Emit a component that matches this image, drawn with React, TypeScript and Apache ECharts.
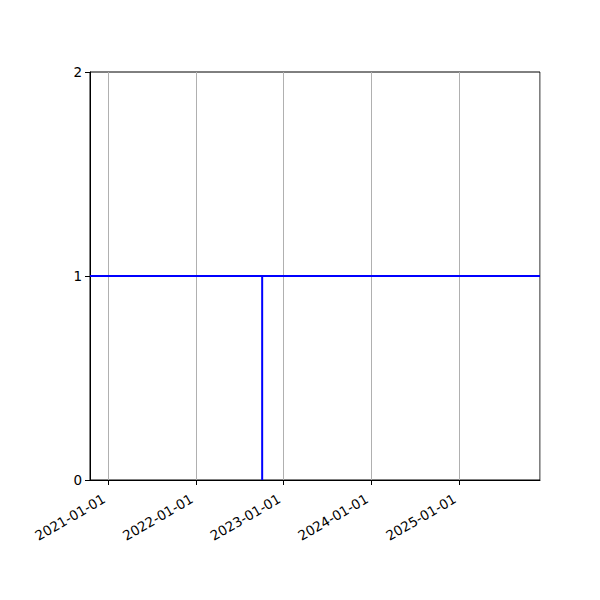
import React, { useEffect, useRef } from "react";
import * as echarts from "echarts";

const xRange = ["2020-10-17", "2025-12-04"];
const hLineY = [1, 1];
const vLineDate = "2022-10-04";
const vLineY = [0, 1];
const yTicks = [0, 1, 2];

const ts = (s: string) => new Date(s + "T00:00:00Z").getTime();

export default function App() {
  const ref = useRef<HTMLDivElement>(null);
  useEffect(() => {
    document.body.style.margin = "0";
    const chart = echarts.init(ref.current!, undefined, { renderer: "svg" });
    const xmin = ts(xRange[0]);
    const xmax = ts(xRange[1]);
    const font = "DejaVu Sans";
    chart.setOption({
      animation: false,
      useUTC: true,
      grid: {
        left: 90,
        right: 60,
        top: 72,
        bottom: 120,
        show: true,
        borderColor: "#000",
        borderWidth: 1,
        backgroundColor: "transparent",
      },
      xAxis: {
        type: "time",
        min: xmin,
        max: xmax,
        minInterval: 365 * 24 * 3600 * 1000,
        maxInterval: 366 * 24 * 3600 * 1000,
        axisLine: { show: true, lineStyle: { color: "#000", width: 1 } },
        axisTick: { show: true, length: 5, lineStyle: { color: "#000" } },
        axisLabel: {
          rotate: 30,
          color: "#000",
          fontFamily: font,
          fontSize: 13.5,
          margin: 15,
          padding: [0, 5, 0, 0],
          showMinLabel: false,
          showMaxLabel: false,
          formatter: (v: number) => echarts.time.format(v, "{yyyy}-{MM}-{dd}", true),
        },
        splitLine: { show: true, lineStyle: { color: "#b0b0b0", width: 1 } },
        minorTick: { show: false },
      },
      yAxis: {
        type: "value",
        min: yTicks[0],
        max: yTicks[yTicks.length - 1],
        interval: 1,
        axisLine: { show: true, lineStyle: { color: "#000", width: 1 } },
        axisTick: { show: true, length: 5, lineStyle: { color: "#000" } },
        axisLabel: { color: "#000", fontFamily: font, fontSize: 13.5, margin: 8 },
        splitLine: { show: false },
      },
      series: [
        {
          type: "line",
          data: [
            [xmin, hLineY[0]],
            [xmax, hLineY[1]],
          ],
          showSymbol: false,
          lineStyle: { color: "#0000ff", width: 2 },
          silent: true,
        },
        {
          type: "line",
          data: vLineY.map((y) => [ts(vLineDate), y]),
          showSymbol: false,
          lineStyle: { color: "#0000ff", width: 2 },
          silent: true,
        },
      ],
    });
    return () => chart.dispose();
  }, []);
  return <div ref={ref} style={{ width: 600, height: 600 }} />;
}
